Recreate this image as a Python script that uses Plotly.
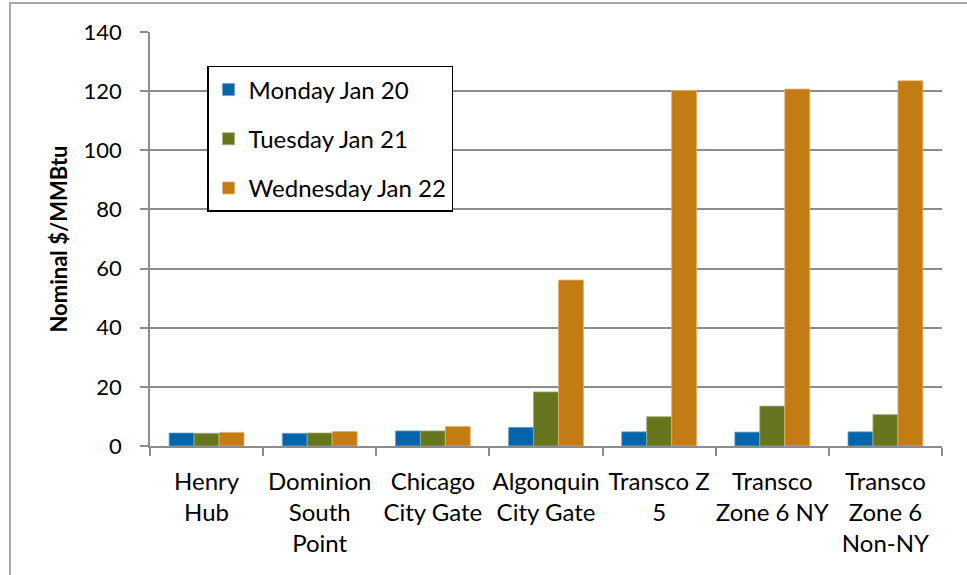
import plotly.graph_objects as go

categories = ["Henry<br>Hub", "Dominion<br>South<br>Point", "Chicago<br>City Gate",
              "Algonquin<br>City Gate", "Transco Z<br>5", "Transco<br>Zone 6 NY",
              "Transco<br>Zone 6<br>Non-NY"]
series_names = ["Monday Jan 20", "Tuesday Jan 21", "Wednesday Jan 22"]
monday = [4.4, 4.3, 5.1, 6.3, 4.8, 4.7, 4.8]
tuesday = [4.3, 4.4, 5.1, 18.3, 9.9, 13.5, 10.6]
wednesday = [4.6, 4.9, 6.6, 56.1, 120.2, 120.7, 123.5]
y_ticks = [0, 20, 40, 60, 80, 100, 120, 140]

colors = ["#0465AA", "#67761E", "#C37B14"]
edge = ["#6FA3CF", "#A3AE72", "#E2B36E"]

fig = go.Figure()
for i, (name, vals) in enumerate(zip(series_names, [monday, tuesday, wednesday])):
    fig.add_trace(go.Bar(
        x=categories, y=vals, name=name, legendgroup=name,
        marker=dict(color=colors[i], line=dict(color=edge[i], width=0.8)),
    ))

font = "Lato, 'Open Sans', sans-serif"
fig.update_layout(
    width=967, height=575,
    margin=dict(l=150, r=25, t=32, b=129),
    paper_bgcolor="white", plot_bgcolor="white",
    barmode="group", bargap=0.338, bargroupgap=0,
    font=dict(family=font, size=22, color="black"),
    legend=dict(
        x=0.072, y=0.918, xanchor="left", yanchor="top",
        bordercolor="black", borderwidth=1.5, bgcolor="white",
        font=dict(size=24), traceorder="grouped", tracegroupgap=15,
        itemwidth=30,
    ),
    xaxis=dict(
        showline=True, linecolor="#8c8c8c", linewidth=1.5,
        ticks="outside", ticklen=8, tickcolor="#8c8c8c", tickwidth=1.5,
        tickson="boundaries", tickangle=0, ticklabelstandoff=13,
        tickfont=dict(size=24), showgrid=False,
    ),
    yaxis=dict(
        range=[0, 140], tickvals=y_ticks,
        showline=True, linecolor="#8c8c8c", linewidth=1.5,
        ticks="outside", ticklen=8, tickcolor="#8c8c8c", tickwidth=1.5,
        showgrid=True, gridcolor="#8c8c8c", gridwidth=1.5,
        zeroline=False, ticklabelstandoff=14,
        tickfont=dict(size=22),
        title=dict(text="<b>Nominal $/MMBtu</b>", font=dict(size=22), standoff=10),
    ),
    shapes=[dict(type="rect", xref="paper", yref="paper",
                 x0=-0.1768, x1=1.2, y0=-0.6, y1=1.070,
                 line=dict(color="#8c8c8c", width=1.5), fillcolor="rgba(0,0,0,0)")],
)

fig.write_html("out.html", config={"displayModeBar": False},
               post_script="document.body.style.margin='0';")
